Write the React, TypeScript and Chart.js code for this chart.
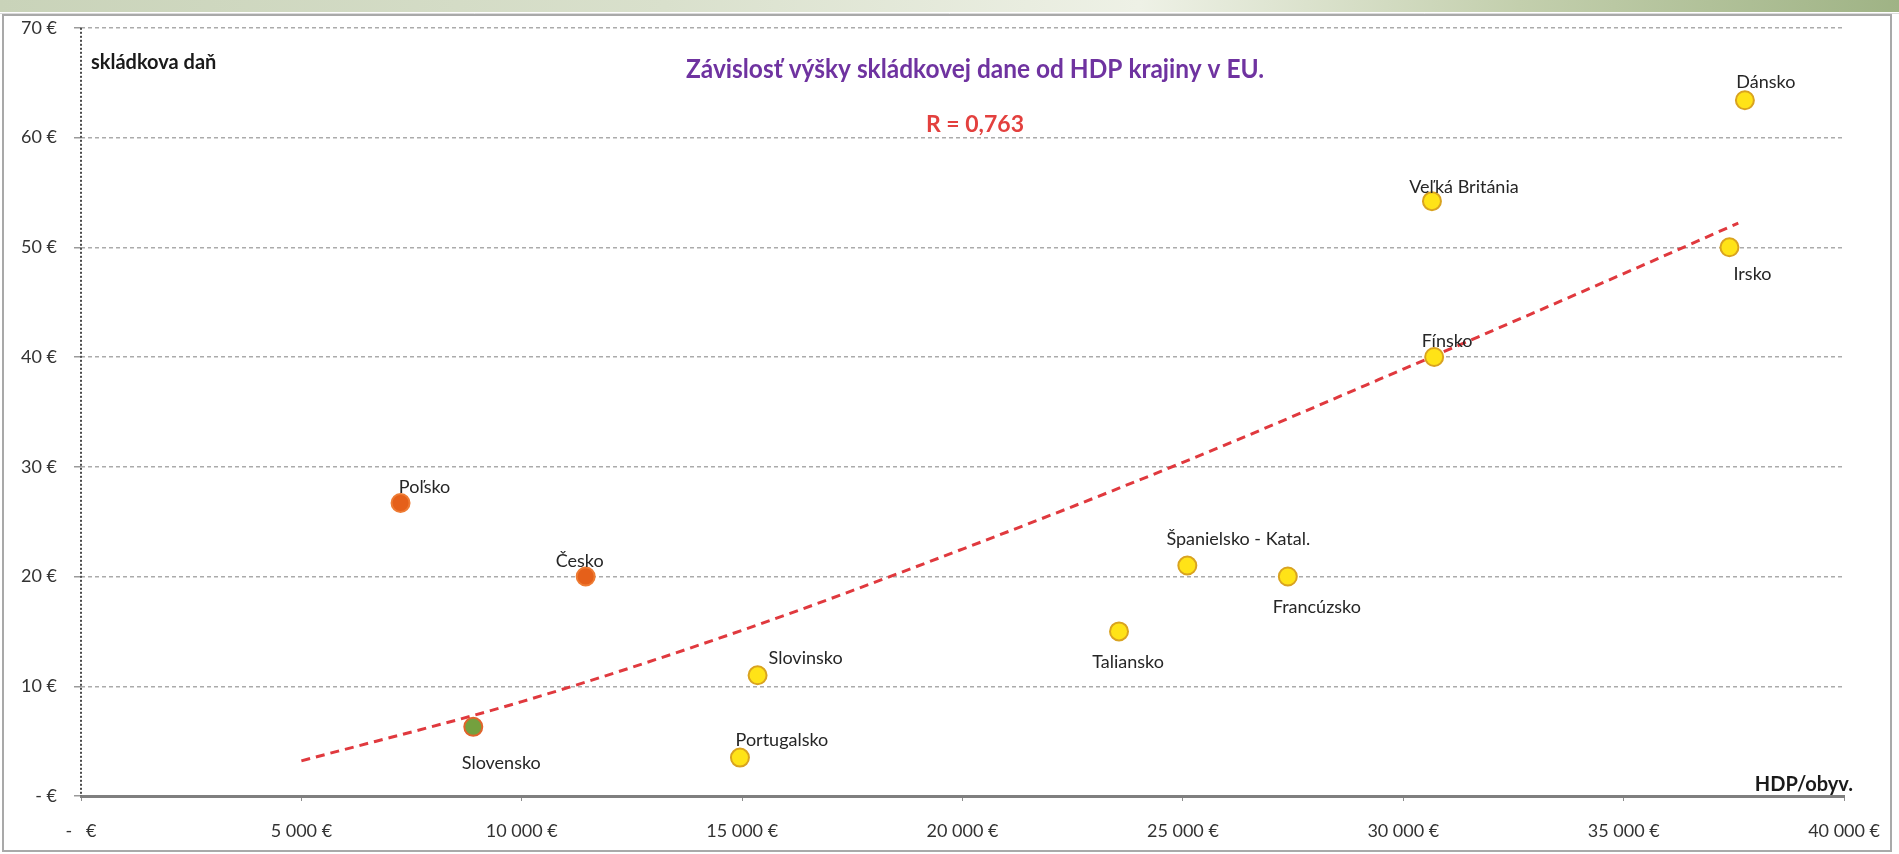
import React, { useEffect, useRef } from 'react';
import { Chart, registerables } from 'chart.js';

Chart.register(...registerables);

// ---- data ----
const COUNTRIES = [
  'Dánsko',
  'Veľká Británia',
  'Irsko',
  'Fínsko',
  'Španielsko - Katal.',
  'Francúzsko',
  'Taliansko',
  'Slovinsko',
  'Portugalsko',
  'Poľsko',
  'Česko',
  'Slovensko',
];
const HDP_PER_CAPITA = [37750, 30650, 37400, 30700, 25100, 27380, 23550, 15350, 14950, 7250, 11450, 8900];
const LANDFILL_TAX = [63.4, 54.2, 50, 40, 21, 20, 15, 11, 3.5, 26.7, 20, 6.3];
const GROUPS = ['eu', 'eu', 'eu', 'eu', 'eu', 'eu', 'eu', 'eu', 'eu', 'v4', 'v4', 'sk'];

// trend line
const TREND_X = [5000, 10000, 15000, 20000, 25000, 30000, 35000, 37600];
const TREND_Y = [3.2, 8.6, 15.1, 22.5, 30.4, 38.9, 47.6, 52.2];

const X_MIN = 0;
const X_MAX = 40000;
const X_STEP = 5000;
const Y_MIN = 0;
const Y_MAX = 70;
const Y_STEP = 10;

const TITLE = 'Závislosť výšky skládkovej dane od HDP krajiny v EU.';
const R_TEXT = 'R = 0,763';
const Y_TITLE = 'skládkova daň';
const X_TITLE = 'HDP/obyv.';

// ---- styling / layout (not data) ----
const W = 1899;
const H = 854;
const FONT = 'Lato, "Open Sans", sans-serif';
const LABEL_OFFSETS: [number, number][] = [
  [21, -18], [32, -14], [23, 27], [13, -16], [51, -26], [29, 31],
  [9, 31], [48, -17], [42, -17], [24, -16], [-6, -15], [28, 36],
];
const FILL: Record<string, string> = { eu: '#FFE317', v4: '#E5601A', sk: '#74A03E' };
const STROKE: Record<string, string> = { eu: '#D9A320', v4: '#EE7B33', sk: '#E0642C' };

function fmtThousands(v: number): string {
  const s = Math.round(v).toString();
  return s.replace(/\B(?=(\d{3})+(?!\d))/g, ' ');
}

const decorPlugin = {
  id: 'decor',
  beforeDraw(chart: any) {
    const ctx = chart.ctx as CanvasRenderingContext2D;
    ctx.save();
    ctx.fillStyle = '#ffffff';
    ctx.fillRect(0, 0, W, H);
    const g = ctx.createLinearGradient(0, 0, W, 0);
    g.addColorStop(0, '#c9d3b9');
    g.addColorStop(0.35, '#d9e0cc');
    g.addColorStop(0.6, '#eef1e6');
    g.addColorStop(0.8, '#c3cfad');
    g.addColorStop(1, '#9fb385');
    ctx.fillStyle = g;
    ctx.fillRect(0, 0, W, 12);
    ctx.strokeStyle = '#a9a9a9';
    ctx.lineWidth = 2;
    ctx.strokeRect(3, 15, 1888, 836);
    ctx.strokeStyle = '#dcdcdc';
    ctx.lineWidth = 1;
    ctx.beginPath();
    ctx.moveTo(0, 13.5);
    ctx.lineTo(W, 13.5);
    ctx.stroke();
    ctx.restore();
  },
  afterDraw(chart: any) {
    const ctx = chart.ctx as CanvasRenderingContext2D;
    const area = chart.chartArea;
    ctx.save();
    // dotted y axis line
    ctx.strokeStyle = '#4a4a4a';
    ctx.lineWidth = 2;
    ctx.setLineDash([2, 2]);
    ctx.beginPath();
    ctx.moveTo(area.left, area.top);
    ctx.lineTo(area.left, area.bottom);
    ctx.stroke();
    ctx.setLineDash([]);

    // point labels
    const meta = chart.getDatasetMeta(1);
    ctx.font = `18px ${FONT}`;
    ctx.fillStyle = '#262626';
    ctx.textAlign = 'center';
    ctx.textBaseline = 'middle';
    meta.data.forEach((el: any, i: number) => {
      const [dx, dy] = LABEL_OFFSETS[i];
      ctx.fillText(COUNTRIES[i], el.x + dx, el.y + dy);
    });

    // title (Calibri-like narrow proportions)
    ctx.font = `bold 27px ${FONT}`;
    ctx.fillStyle = '#6F33A0';
    ctx.textAlign = 'center';
    ctx.fillText(TITLE, 975, 69, 578);

    // R value
    ctx.font = `bold 23px ${FONT}`;
    ctx.fillStyle = '#E3403E';
    ctx.fillText(R_TEXT, 975, 125);

    // axis titles
    ctx.font = `bold 20px ${FONT}`;
    ctx.fillStyle = '#1a1a1a';
    ctx.textAlign = 'left';
    ctx.fillText(Y_TITLE, 91, 63);
    ctx.textAlign = 'right';
    ctx.fillText(X_TITLE, 1853, 785);
    ctx.restore();
  },
};

export default function App() {
  const canvasRef = useRef<HTMLCanvasElement | null>(null);

  useEffect(() => {
    let chart: Chart | null = null;
    let cancelled = false;
    const build = () => {
      if (cancelled || !canvasRef.current) return;
      const points = HDP_PER_CAPITA.map((x, i) => ({ x, y: LANDFILL_TAX[i] }));
      const trend = TREND_X.map((x, i) => ({ x, y: TREND_Y[i] }));
      chart = new Chart(canvasRef.current, {
        type: 'scatter',
        data: {
          datasets: [
            {
              type: 'line',
              data: trend,
              borderColor: '#E0393E',
              borderWidth: 3,
              borderDash: [9, 6],
              pointRadius: 0,
              tension: 0.35,
              cubicInterpolationMode: 'monotone',
              fill: false,
              showLine: true,
              order: 2,
            } as any,
            {
              type: 'scatter',
              data: points,
              pointRadius: 9,
              pointBorderWidth: 2,
              pointBackgroundColor: GROUPS.map((g) => FILL[g]),
              pointBorderColor: GROUPS.map((g) => STROKE[g]),
              order: 1,
            } as any,
          ],
        },
        options: {
          animation: false,
          responsive: false,
          maintainAspectRatio: false,
          events: [],
          layout: { padding: { top: 22, right: 49, bottom: 0, left: 0 } },
          plugins: { legend: { display: false }, tooltip: { enabled: false } },
          scales: {
            x: {
              type: 'linear',
              min: X_MIN,
              max: X_MAX,
              afterFit: (s: any) => { s.height = 58; },
              ticks: {
                stepSize: X_STEP,
                maxRotation: 0,
                autoSkip: false,
                padding: 19,
                color: '#333333',
                font: { family: FONT, size: 18 },
                callback: (v: any) => (Number(v) === 0 ? '-   €' : `${fmtThousands(Number(v))} €`),
              },
              grid: {
                display: true,
                drawOnChartArea: false,
                drawTicks: true,
                tickLength: 5,
                tickColor: '#8c8c8c',
                tickWidth: 1,
              },
              border: { display: true, color: '#7f7f7f', width: 3 },
            },
            y: {
              type: 'linear',
              min: Y_MIN,
              max: Y_MAX,
              afterFit: (s: any) => { s.width = 81; },
              ticks: {
                stepSize: Y_STEP,
                padding: 17,
                color: '#333333',
                font: { family: FONT, size: 18 },
                callback: (v: any) => (Number(v) === 0 ? '- €' : `${v} €`),
              },
              grid: {
                display: true,
                drawOnChartArea: true,
                drawTicks: true,
                tickLength: 7,
                color: '#ababab',
                lineWidth: 1.5,
                tickColor: '#9a9a9a',
                tickWidth: 1.5,
                tickBorderDash: [],
              },
              border: { display: false, dash: [4, 3] },
            },
          },
        },
        plugins: [decorPlugin],
      } as any);
    };
    const fontsReady = (document as any).fonts
      ? Promise.all([
          (document as any).fonts.load(`18px Lato`),
          (document as any).fonts.load(`bold 18px Lato`),
        ]).catch(() => null)
      : Promise.resolve(null);
    fontsReady.then(build);
    return () => {
      cancelled = true;
      if (chart) chart.destroy();
    };
  }, []);

  return (
    <div style={{ position: 'fixed', left: 0, top: 0, width: W, height: H, background: '#fff' }}>
      <canvas ref={canvasRef} width={W} height={H} style={{ display: 'block', width: W, height: H }} />
    </div>
  );
}
